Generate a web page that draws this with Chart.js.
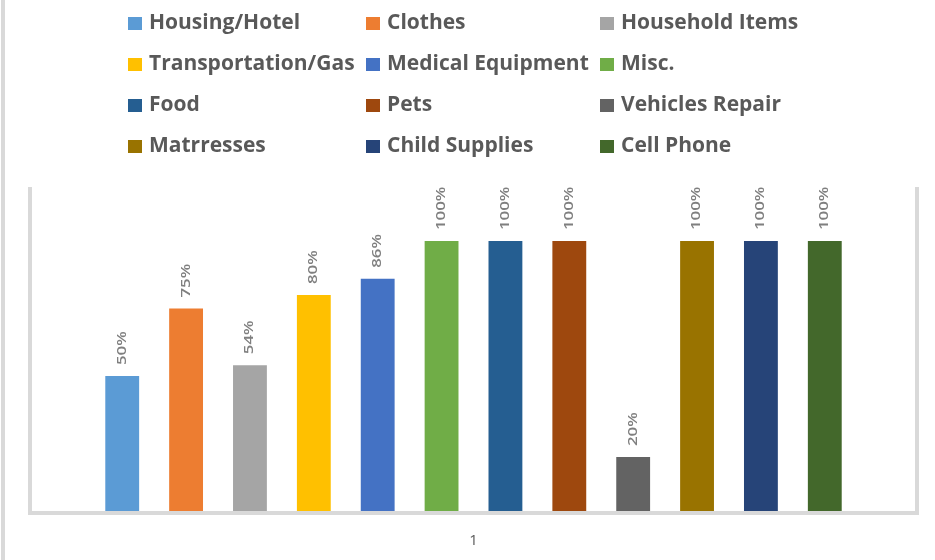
<!DOCTYPE html>
<html>
<head>
<meta charset="utf-8">
<script src="https://cdn.jsdelivr.net/npm/chart.js@4.4.0/dist/chart.umd.min.js"></script>
<style>
  html, body { margin: 0; padding: 0; background: #fff; }
  #wrap { width: 935px; height: 560px; position: relative; }
</style>
</head>
<body>
<div id="wrap"><canvas id="chart"></canvas></div>
<script>
// categories / series
const categories = ['1'];
const seriesNames = ['Housing/Hotel', 'Clothes', 'Household Items', 'Transportation/Gas', 'Medical Equipment', 'Misc.',
  'Food', 'Pets', 'Vehicles Repair', 'Matrresses', 'Child Supplies', 'Cell Phone'];
const seriesValues = [0.50, 0.75, 0.54, 0.80, 0.86, 1.00, 1.00, 1.00, 0.20, 1.00, 1.00, 1.00];
const seriesColors = ['#5B9BD5', '#ED7D31', '#A5A5A5', '#FFC000', '#4472C4', '#70AD47',
  '#255E91', '#9E480E', '#636363', '#997300', '#264478', '#43682B'];

const FONT = 'Open Sans, sans-serif';

// legend in a 3 column grid like the office chart
const gridLegend = {
  id: 'gridLegend',
  afterDraw(chart) {
    const ctx = chart.ctx;
    const colX = [128, 366, 600];
    ctx.save();
    ctx.font = 'bold 21px ' + FONT;
    ctx.textBaseline = 'middle';
    chart.data.datasets.forEach((ds, i) => {
      const x = colX[i % 3];
      const y = 17 + 41 * Math.floor(i / 3);
      ctx.fillStyle = ds.backgroundColor;
      ctx.fillRect(x, y, 14, 13);
      ctx.fillStyle = '#595959';
      ctx.fillText(ds.label, x + 21, y + 6);
    });
    ctx.restore();
  }
};

// frame round the plot + values above bars
const framePlugin = {
  id: 'framePlugin',
  beforeDraw(chart) {
    const ctx = chart.ctx;
    const a = chart.chartArea;
    ctx.save();
    ctx.fillStyle = '#D9D9D9';
    ctx.fillRect(1, 0, 4, chart.height);            // outer border on the left
    ctx.fillRect(a.left - 4, a.top, 4, a.bottom - a.top + 4);
    ctx.fillRect(a.right, a.top, 4, a.bottom - a.top + 4);
    ctx.fillRect(a.left - 4, a.bottom, a.right - a.left + 8, 4);
    ctx.restore();
  },
  afterDatasetsDraw(chart) {
    const ctx = chart.ctx;
    ctx.save();
    ctx.font = '600 12px ' + FONT;
    ctx.fillStyle = '#7F7F7F';
    ctx.textAlign = 'left';
    ctx.textBaseline = 'middle';
    chart.data.datasets.forEach((ds, i) => {
      const bar = chart.getDatasetMeta(i).data[0];
      ctx.save();
      ctx.translate(bar.x, bar.y - 11);
      ctx.rotate(-Math.PI / 2);
      ctx.scale(1.4, 1);   // the original labels are drawn stretched
      ctx.fillText(Math.round(ds.data[0] * 100) + '%', 0, 0);
      ctx.restore();
    });
    ctx.restore();
  }
};

const datasets = seriesNames.map((name, i) => ({
  label: name,
  data: [seriesValues[i]],
  backgroundColor: seriesColors[i],
  borderWidth: 0,
  categoryPercentage: 0.868,
  barPercentage: 0.53
}));

new Chart(document.getElementById('chart'), {
  type: 'bar',
  data: { labels: categories, datasets: datasets },
  options: {
    responsive: true,
    maintainAspectRatio: false,
    animation: false,
    layout: { padding: { left: 32, right: 20, top: 187, bottom: -11 } },
    plugins: {
      legend: { display: false },
      tooltip: { enabled: false }
    },
    scales: {
      x: {
        grid: { display: false, drawTicks: false },
        border: { display: false },
        ticks: { color: '#595959', font: { size: 15, family: FONT }, padding: 21 }
      },
      y: {
        display: false,
        min: 0,
        max: 1.2
      }
    }
  },
  plugins: [gridLegend, framePlugin]
});
</script>
</body>
</html>
